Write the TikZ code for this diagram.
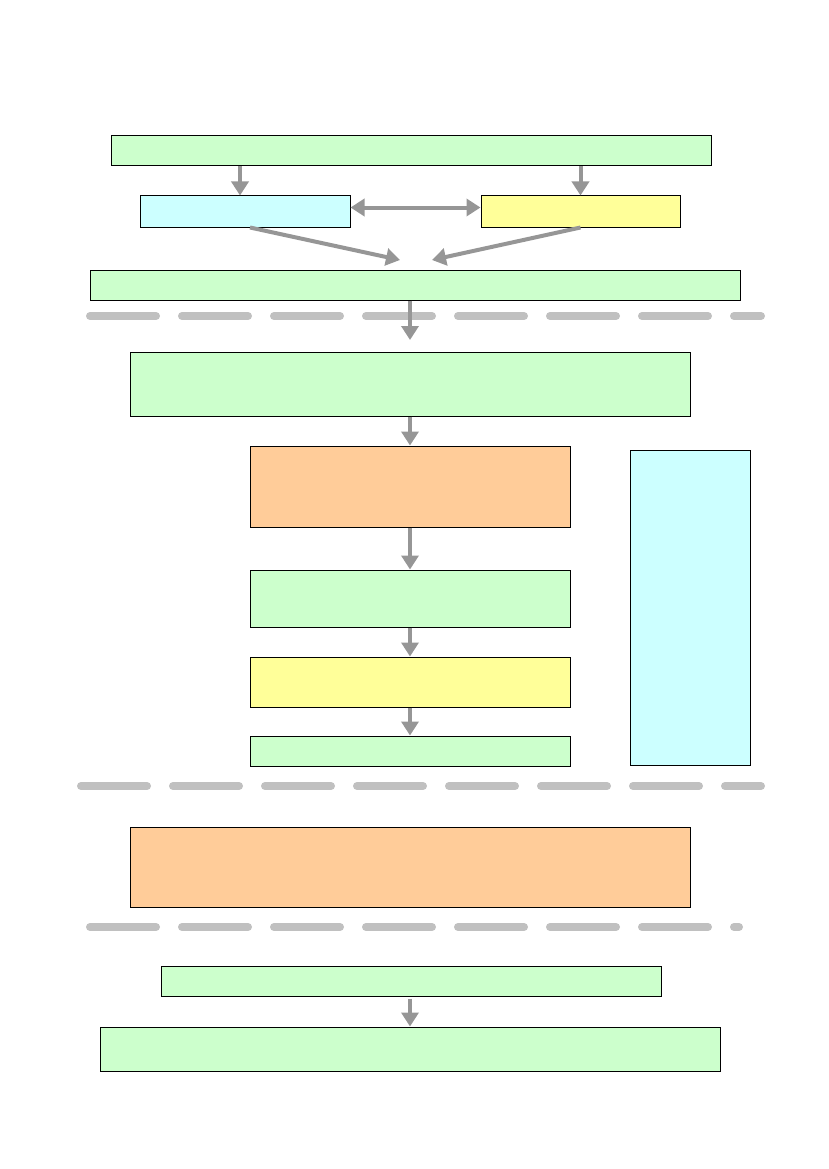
\documentclass[tikz,border=0pt]{standalone}
\usetikzlibrary{arrows.meta}
\definecolor{bgreen}{HTML}{CCFFCC}
\definecolor{bcyan}{HTML}{CCFFFF}
\definecolor{byellow}{HTML}{FFFF99}
\definecolor{borange}{HTML}{FFCC99}
\definecolor{arrgray}{HTML}{969696}
\definecolor{sepgray}{HTML}{C0C0C0}
\tikzset{
  box/.style={draw=black, line width=1pt, inner sep=0pt, rectangle},
  gbox/.style={box, fill=bgreen},
  cbox/.style={box, fill=bcyan},
  ybox/.style={box, fill=byellow},
  obox/.style={box, fill=borange},
  conn/.style={draw=arrgray, line width=4pt, -{Triangle[length=14pt,width=17pt]}},
  biconn/.style={draw=arrgray, line width=4pt, {Triangle[length=14pt,width=17pt]}-{Triangle[length=14pt,width=17pt]}},
  sep/.style={draw=sepgray, line width=8pt, line cap=round, dash pattern=on 66pt off 26pt}
}
\begin{document}
\begin{tikzpicture}[x=1pt,y=-1pt]
\useasboundingbox (0,0) rectangle (828,1169);
\node[gbox, minimum width=600, minimum height=30] (top) at (411,151) {};
\node[cbox, minimum width=210, minimum height=31] (left) at (245,211.5) {};
\node[ybox, minimum width=199, minimum height=31] (right) at (580.5,211.5) {};
\node[gbox, minimum width=650, minimum height=30] (wide) at (415,285) {};
\node[gbox, minimum width=560, minimum height=64] (b6) at (410,384) {};
\node[obox, minimum width=320, minimum height=81] (b7) at (410,486.5) {};
\node[gbox, minimum width=320, minimum height=57] (b8) at (410,598.5) {};
\node[ybox, minimum width=320, minimum height=50] (b9) at (410,682) {};
\node[gbox, minimum width=320, minimum height=30] (b10) at (410,751) {};
\node[cbox, minimum width=120, minimum height=315] (side) at (690,607.5) {};
\node[obox, minimum width=560, minimum height=80] (b12) at (410,867) {};
\node[gbox, minimum width=500, minimum height=30] (b13) at (411,981) {};
\node[gbox, minimum width=620, minimum height=44] (b14) at (410,1049) {};
\coordinate (m1) at (400,260);
\coordinate (m2) at (432,260);
\coordinate (m3) at (410,340);
% separators
\draw[sep] (90,316) -- (761,316);
\draw[sep] (81,786) -- (761,786);
\draw[sep] (90,927) -- (739,927);
% connectors
\draw[conn] ([xshift=-5pt]top.south -| left) -- ([xshift=-5pt]left.north);
\draw[conn] (top.south -| right) -- (right.north);
\draw[biconn] ([yshift=4pt]left.east) -- ([yshift=4pt]right.west);
\draw[conn] ([xshift=5pt]left.south) -- (m1);
\draw[conn] (right.south) -- (m2);
\draw[conn] (wide.south -| m3) -- (m3);
\draw[conn] (b6.south) -- (b7.north);
\draw[conn] (b7.south) -- (b8.north);
\draw[conn] (b8.south) -- (b9.north);
\draw[conn] (b9.south) -- (b10.north);
\draw[conn] ([yshift=-2pt]b13.south -| b14) -- (b14.north);
\end{tikzpicture}
\end{document}
